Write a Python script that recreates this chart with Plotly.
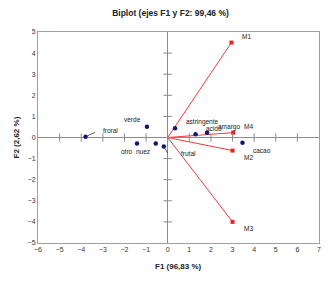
import plotly.graph_objects as go

# Observations (dots)
obs_names = ["froral", "verde", "otro", "nuez", "frutal", "astringente", "acido", "amargo", "cacao"]
obs_x = [-3.80, -0.96, -1.42, -0.55, -0.18, 0.34, 1.29, 1.82, 3.46]
obs_y = [0.04, 0.51, -0.28, -0.28, -0.43, 0.44, 0.15, 0.23, -0.25]

# Variables (vectors)
var_names = ["M1", "M2", "M3", "M4"]
var_x = [2.95, 3.00, 3.00, 3.03]
var_y = [4.50, -0.62, -4.00, 0.23]

x_ticks = list(range(-6, 8))
y_ticks = list(range(-5, 6))

# label placement (xanchor, xshift, yshift) in pixels
obs_off = {
    "froral": ("left", 15, 6), "verde": ("right", -4, 7), "otro": ("right", -2, -8),
    "nuez": ("right", -4, -8), "frutal": ("left", 15, -7), "astringente": ("left", 9, 6),
    "acido": ("left", 8, 6), "amargo": ("left", 9, 6), "cacao": ("left", 9, -8),
}
var_off = {"M1": (9, 6), "M2": (9, -7), "M3": (9, -7), "M4": (9, 6)}

fig = go.Figure()

# vectors
lx, ly = [], []
for vx, vy in zip(var_x, var_y):
    lx += [0, vx, None]
    ly += [0, vy, None]
fig.add_trace(go.Scatter(x=lx, y=ly, mode="lines",
                         line=dict(color="#F03C3C", width=1), hoverinfo="skip"))
fig.add_trace(go.Scatter(x=var_x, y=var_y, mode="markers",
                         marker=dict(color="#F01E1E", size=4, symbol="square")))

# tick marks on the zero axes
xt_inner = [t for t in x_ticks if t not in (x_ticks[0], x_ticks[-1])]
yt_inner = [t for t in y_ticks if t not in (y_ticks[0], y_ticks[-1])]
fig.add_trace(go.Scatter(x=xt_inner, y=[0] * len(xt_inner), mode="markers",
                         marker=dict(symbol="line-ns", size=6, line=dict(color="#8C8C8C", width=1)),
                         hoverinfo="skip"))
fig.add_trace(go.Scatter(x=[0] * len(yt_inner), y=yt_inner, mode="markers",
                         marker=dict(symbol="line-ew", size=6, line=dict(color="#8C8C8C", width=1)),
                         hoverinfo="skip"))

# observation dots
fig.add_trace(go.Scatter(x=obs_x, y=obs_y, mode="markers",
                         marker=dict(color="#14147A", size=4.5)))

lab_font = dict(family="Liberation Sans", size=6.5, color="#222222")
for n, x, y in zip(obs_names, obs_x, obs_y):
    xa, dx, dy = obs_off[n]
    fig.add_annotation(x=x, y=y, text=n, showarrow=False, xanchor=xa,
                       yanchor="middle", xshift=dx, yshift=dy, font=lab_font)
for n, x, y in zip(var_names, var_x, var_y):
    dx, dy = var_off[n]
    fig.add_annotation(x=x, y=y, text=n, showarrow=False, xanchor="left", yanchor="middle",
                       xshift=dx, yshift=dy, font=lab_font)

# leader lines for froral and frutal
fig.add_annotation(x=obs_x[0], y=obs_y[0], ax=11, ay=-5, text="", showarrow=True,
                   arrowhead=0, arrowwidth=0.8, arrowcolor="#333333", standoff=2)
fig.add_annotation(x=obs_x[4], y=obs_y[4], ax=5, ay=8, text="", showarrow=True,
                   arrowhead=0, arrowwidth=0.8, arrowcolor="#333333", standoff=2)

axfont = dict(family="Liberation Sans", size=7, color="#333333")
fig.update_layout(
    width=325, height=277,
    margin=dict(l=30, r=12, t=24, b=42),
    paper_bgcolor="white", plot_bgcolor="white",
    showlegend=False,
    title=dict(text="<b>Biplot (ejes F1 y F2: 99,46 %)</b>", x=0.5, xanchor="center",
               y=1 - 5 / 277, yanchor="middle",
               font=dict(family="Liberation Sans", size=8.5, color="#222222")),
    xaxis=dict(range=[-6, 7], tickvals=x_ticks, showgrid=False, zeroline=True,
               zerolinecolor="#8C8C8C", zerolinewidth=1, showline=True, mirror=True,
               linecolor="#A0A0A0", linewidth=1, ticks="", tickfont=axfont),
    yaxis=dict(range=[-5, 5], tickvals=y_ticks, showgrid=False, zeroline=True,
               zerolinecolor="#8C8C8C", zerolinewidth=1, showline=True, mirror=True,
               linecolor="#A0A0A0", linewidth=1, ticks="", tickfont=axfont),
)
fig.add_annotation(xref="paper", yref="paper", x=0.5, y=0, yshift=-23, yanchor="middle",
                   text="<b>F1 (96,83 %)</b>", showarrow=False,
                   font=dict(family="Liberation Sans", size=8, color="#222222"))
fig.add_annotation(xref="paper", yref="paper", x=0, y=0.5, xshift=-22, xanchor="center",
                   text="<b>F2 (2,62 %)</b>", showarrow=False, textangle=-90,
                   font=dict(family="Liberation Sans", size=8, color="#222222"))

fig.write_html("out.html")
